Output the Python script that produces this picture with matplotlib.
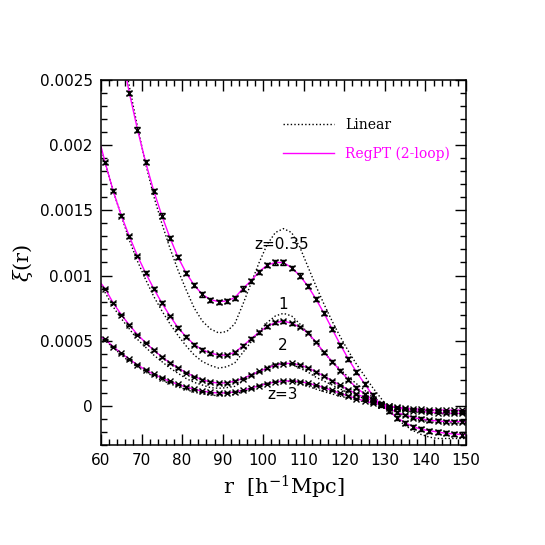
import matplotlib
matplotlib.use("Agg")
import matplotlib.pyplot as plt
from matplotlib.ticker import MultipleLocator, FixedFormatter, FixedLocator

plt.rcParams["mathtext.fontset"] = "dejavuserif"

# separation grid used for the theory curves
r_line = [60, 61, 63, 65, 67, 69, 71, 73, 75, 77, 79, 81, 83, 85, 87, 89, 91, 93, 95, 97,
          99, 101, 103, 105, 107, 109, 111, 113, 115, 117, 119, 121, 123, 125, 127, 129,
          131, 133, 135, 137, 139, 141, 143, 145, 147, 149, 150]

# linear theory
lin_z035 = [0.0038, 0.0036, 0.00318, 0.0028, 0.00245, 0.00214, 0.00186, 0.00161, 0.0014, 0.00121,
            0.00104, 0.00089, 0.00075, 0.00065, 0.00059, 0.00056, 0.00057, 0.00063, 0.00078, 0.00094,
            0.0011, 0.00124, 0.00133, 0.00136, 0.00133, 0.00122, 0.00107, 0.00092, 0.00078, 0.00065,
            0.00053, 0.00042, 0.00032, 0.00023, 0.00014, 0.00006, -0.00002, -0.0001, -0.00015, -0.00019,
            -0.00022, -0.00024, -0.00025, -0.00025, -0.00025, -0.00025, -0.00025]
lin_z1 = [0.00198, 0.00187, 0.00165, 0.00146, 0.00127, 0.00111, 0.00097, 0.00084, 0.00073, 0.00063,
          0.00054, 0.00046, 0.00039, 0.00034, 0.00031, 0.00029, 0.0003, 0.00033, 0.00041, 0.00049,
          0.00057, 0.00064, 0.00069, 0.00071, 0.00069, 0.00063, 0.00056, 0.00048, 0.00041, 0.00034,
          0.00028, 0.00022, 0.00017, 0.00012, 0.00007, 0.00003, -0.00001, -0.00005, -0.00008, -0.0001,
          -0.00011, -0.00012, -0.00013, -0.00013, -0.00013, -0.00013, -0.00013]
lin_z2 = [0.00092, 0.00087, 0.00076, 0.00067, 0.00059, 0.00051, 0.00045, 0.00039, 0.00034, 0.00029,
          0.00025, 0.00021, 0.00018, 0.00016, 0.00014, 0.000135, 0.00014, 0.00015, 0.00019, 0.00023,
          0.00026, 0.0003, 0.00032, 0.00033, 0.00032, 0.00029, 0.00026, 0.00022, 0.00019, 0.00016,
          0.00013, 0.0001, 0.00008, 0.000055, 0.000035, 0.000015, -0.000005, -0.000025, -0.00004, -0.000045,
          -0.00005, -0.000055, -0.00006, -0.00006, -0.00006, -0.00006, -0.00006]
lin_z3 = [0.00053, 0.0005, 0.00045, 0.00039, 0.00034, 0.0003, 0.00026, 0.000225, 0.000195, 0.00017,
          0.000145, 0.000125, 0.000105, 0.000091, 0.000083, 0.000078, 0.00008, 0.000088, 0.00011, 0.00013,
          0.000155, 0.000174, 0.000186, 0.00019, 0.000186, 0.000172, 0.000151, 0.000129, 0.000109, 0.000091,
          0.000074, 0.000059, 0.000045, 0.000032, 0.00002, 0.000008, -0.000003, -0.000014, -0.000021, -0.000027,
          -0.000031, -0.000034, -0.000035, -0.000035, -0.000035, -0.000035, -0.000035]

# RegPT (2-loop)
reg_z035 = [0.00366, 0.00345, 0.00306, 0.00271, 0.0024, 0.00212, 0.00187, 0.00165, 0.00146, 0.00129,
            0.00114, 0.00102, 0.000925, 0.000855, 0.000815, 0.0008, 0.000805, 0.00083, 0.0009, 0.00096,
            0.00103, 0.00108, 0.0011, 0.0011, 0.00106, 0.001, 0.00092, 0.00082, 0.00071, 0.00059,
            0.00047, 0.00036, 0.00026, 0.00017, 0.00008, 0.00001, -0.00004, -0.00009, -0.00013, -0.00016,
            -0.00018, -0.00019, -0.0002, -0.00021, -0.000215, -0.00022, -0.00022]
reg_z1 = [0.00199, 0.00187, 0.00165, 0.00146, 0.0013, 0.00115, 0.00102, 0.0009, 0.00079, 0.00069,
          0.0006, 0.00053, 0.00047, 0.00043, 0.000405, 0.00039, 0.00039, 0.00041, 0.00046, 0.000515,
          0.000565, 0.00061, 0.00064, 0.00065, 0.000635, 0.000605, 0.00056, 0.00049, 0.00041, 0.00034,
          0.00027, 0.0002, 0.00014, 0.00009, 0.00005, 0.00001, -0.00002, -0.00005, -0.00007, -0.00009,
          -0.0001, -0.00011, -0.000115, -0.00012, -0.00012, -0.00012, -0.00012]
reg_z2 = [0.00094, 0.0009, 0.00079, 0.0007, 0.00062, 0.000547, 0.000485, 0.000427, 0.000376, 0.00033,
          0.00029, 0.000255, 0.000225, 0.0002, 0.000183, 0.000175, 0.000177, 0.00019, 0.00021, 0.000237,
          0.000265, 0.00029, 0.000312, 0.000325, 0.000326, 0.000315, 0.000292, 0.000262, 0.000228, 0.000192,
          0.000158, 0.000124, 0.000092, 0.000064, 0.00004, 0.000018, 0.0, -0.000015, -0.000027, -0.000036,
          -0.000043, -0.000048, -0.000052, -0.000055, -0.000057, -0.000058, -0.000058]
reg_z3 = [0.000527, 0.000511, 0.000455, 0.000404, 0.000358, 0.000314, 0.000276, 0.000243, 0.000215, 0.000188,
          0.000165, 0.000145, 0.000128, 0.000114, 0.000104, 0.000099, 0.0001, 0.000107, 0.00012, 0.000137,
          0.000155, 0.000171, 0.000184, 0.000191, 0.000192, 0.000186, 0.000175, 0.000159, 0.00014, 0.000119,
          0.000097, 0.000076, 0.000056, 0.000038, 0.000022, 0.000009, -0.000002, -0.00001, -0.000017, -0.000022,
          -0.000026, -0.000029, -0.000031, -0.000032, -0.000033, -0.000033, -0.000033]

# N-body measurements sit on the RegPT curves at the bin centres (every 2 Mpc/h)
r_nbody = r_line[1:-1]
nb_z035 = reg_z035[1:-1]
nb_z1 = reg_z1[1:-1]
nb_z2 = reg_z2[1:-1]
nb_z3 = reg_z3[1:-1]
err_z035 = 1.6e-5
err_z1 = 1.1e-5
err_z2 = 6e-6
err_z3 = 4e-6

fig = plt.figure(figsize=(5.45, 5.45), dpi=100)
ax = fig.add_axes([0.1853, 0.1835, 0.6697, 0.6697])

lin_sets = [lin_z035, lin_z1, lin_z2, lin_z3]
reg_sets = [reg_z035, reg_z1, reg_z2, reg_z3]
nb_sets = [(nb_z035, err_z035), (nb_z1, err_z1), (nb_z2, err_z2), (nb_z3, err_z3)]

for i, lin in enumerate(lin_sets):
    ax.plot(r_line, lin, color="k", ls=(0, (1, 1.6)), lw=1.0,
            label="Linear" if i == 0 else None)
for i, reg in enumerate(reg_sets):
    ax.plot(r_line, reg, color="magenta", lw=1.0,
            label="RegPT (2-loop)" if i == 0 else None)
for nb, err in nb_sets:
    ax.errorbar(r_nbody, nb, yerr=err, fmt="x", color="k", ms=4, mew=1.0,
                elinewidth=0.9, capsize=2.2, capthick=0.9)

# redshift labels
ax.text(104.5, 0.001235, "z=0.35", ha="center", va="center", fontsize=11)
ax.text(104.9, 0.000775, "1", ha="center", va="center", fontsize=11)
ax.text(104.9, 0.00046, "2", ha="center", va="center", fontsize=11)
ax.text(104.9, 0.000084, "z=3", ha="center", va="center", fontsize=11)

ax.set_xlim(60, 150)
ax.set_ylim(-0.0003, 0.0025)

ax.xaxis.set_major_locator(MultipleLocator(10))
ax.xaxis.set_minor_locator(MultipleLocator(2))
yt = [0, 0.0005, 0.001, 0.0015, 0.002, 0.0025]
ax.yaxis.set_major_locator(FixedLocator(yt))
ax.yaxis.set_major_formatter(FixedFormatter(["0", "0.0005", "0.001", "0.0015", "0.002", "0.0025"]))
ax.yaxis.set_minor_locator(MultipleLocator(0.0001))
ax.tick_params(which="both", direction="in", top=True, right=True, width=1.0)
ax.tick_params(which="major", length=8, labelsize=11, pad=6)
ax.tick_params(which="minor", length=4)
for s in ax.spines.values():
    s.set_linewidth(1.1)

ax.set_xlabel(r"r  $[\mathrm{h^{-1}Mpc}]$", fontsize=15, family="DejaVu Serif", labelpad=4)
ax.set_ylabel(r"$\xi$(r)", fontsize=15, family="DejaVu Serif", labelpad=3)

leg = ax.legend(loc="upper left", bbox_to_anchor=(0.4986, 0.896), frameon=False,
                handlelength=3.7, handletextpad=0.8, labelspacing=1.05,
                borderpad=0, borderaxespad=0, prop={"family": "DejaVu Serif", "size": 10})
leg.get_texts()[1].set_color("magenta")

fig.savefig("out.png", dpi=100)
